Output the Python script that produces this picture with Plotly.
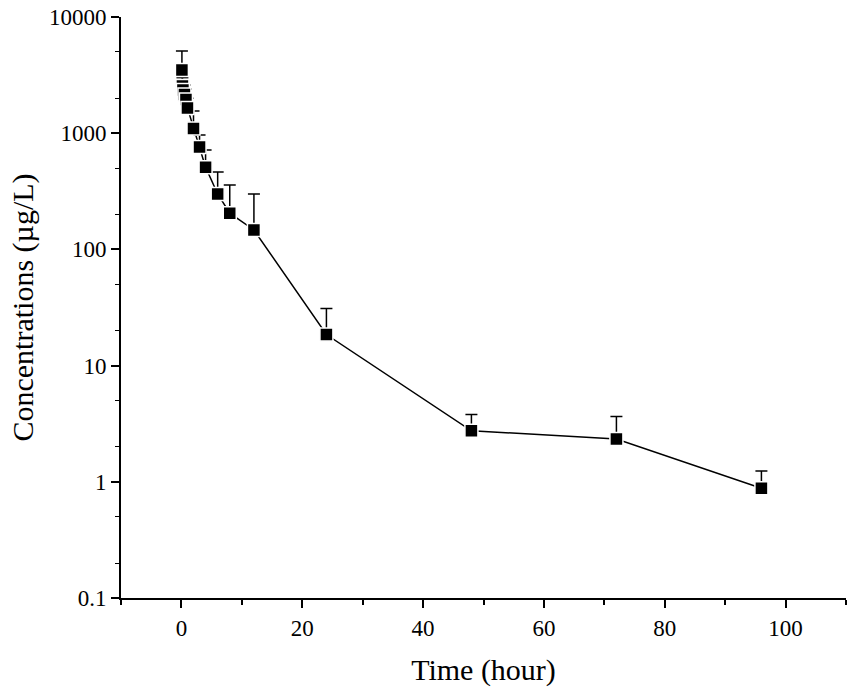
import plotly.graph_objects as go

# sampling times (hour) and mean concentrations (ug/L)
time_h = [0.083, 0.167, 0.25, 0.5, 0.75, 1, 2, 3, 4, 6, 8, 12, 24, 48, 72, 96]
conc = [3500, 2550, 2350, 2150, 1950, 1650, 1100, 760, 510, 300, 205, 147,
        18.5, 2.75, 2.33, 0.88]
# upper error bar tops
conc_upper = [5100, 3000, 2800, 2600, 2400, 2000, 1550, 965, 716, 464, 358, 300,
              31, 3.8, 3.65, 1.24]

err_plus = [u - c for u, c in zip(conc_upper, conc)]

fig = go.Figure(go.Scatter(
    x=time_h, y=conc,
    mode='lines+markers',
    line=dict(color='black', width=1.5),
    marker=dict(symbol='square', size=13, color='black',
                line=dict(color='white', width=1.5)),
    error_y=dict(type='data', symmetric=False, array=err_plus,
                 arrayminus=[0] * len(conc), color='black',
                 thickness=1.5, width=6),
    showlegend=False,
))

serif = 'Liberation Serif, Times New Roman, serif'
tick_font = dict(family=serif, size=23, color='black')
title_font = dict(family=serif, size=30, color='black')

fig.update_xaxes(
    range=[-10, 110], tick0=0, dtick=20,
    ticks='outside', ticklen=8, tickwidth=1.5, tickcolor='black',
    minor=dict(dtick=10, ticks='outside', ticklen=5, tickwidth=1.5, tickcolor='black'),
    showline=True, linecolor='black', linewidth=2,
    showgrid=False, zeroline=False, automargin=False,
    tickfont=tick_font,
    title=dict(text='Time (hour)', font=title_font, standoff=19),
)
fig.update_yaxes(
    type='log', range=[-1, 4],
    tickvals=[0.1, 1, 10, 100, 1000, 10000],
    ticktext=['0.1', '1', '10', '100', '1000', '10000'],
    ticks='outside', ticklen=8, tickwidth=1.5, tickcolor='black',
    minor=dict(ticks='outside', ticklen=4, tickwidth=1.2, tickcolor='black',
               showgrid=False),
    showline=True, linecolor='black', linewidth=2,
    showgrid=False, zeroline=False, automargin=False,
    tickfont=tick_font,
    title=dict(text='Concentrations (µg/L)', font=title_font, standoff=6),
)

fig.update_layout(
    width=851, height=695,
    font=dict(family=serif, color='black'),
    margin=dict(l=121, r=5, t=17, b=97),
    plot_bgcolor='white', paper_bgcolor='white',
)

# drop the browser's default body margin so the figure sits at the page origin
fig.write_html("out.html", config={'displayModeBar': False},
               post_script="document.body.style.margin='0';")
